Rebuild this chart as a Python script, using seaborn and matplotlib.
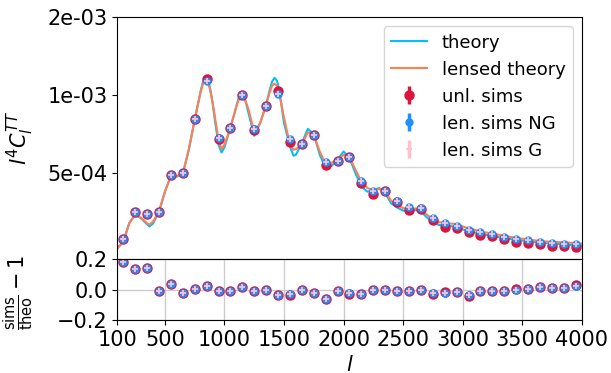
import numpy as np
import pandas as pd
import seaborn as sns
import matplotlib.pyplot as plt
from matplotlib.ticker import FormatStrFormatter, NullLocator

# theory curves, l^4 C_l^TT in units of 1e-4
ell_theo = [100, 150, 200, 250, 300, 350, 370, 400, 450, 500, 550, 600, 650, 700,
            750, 800, 820, 840, 860, 880, 900, 925, 950, 975, 1000, 1050, 1100, 1120,
            1140, 1160, 1180, 1200, 1250, 1300, 1350, 1380, 1400, 1420, 1440, 1460,
            1500, 1550, 1580, 1600, 1650, 1700, 1750, 1800, 1850, 1900, 1950, 2000,
            2050, 2100, 2150, 2200, 2250, 2300, 2350, 2400, 2450, 2500, 2550, 2600,
            2650, 2700, 2750, 2800, 2850, 2900, 2950, 3000, 3050, 3100, 3150, 3250,
            3350, 3450, 3550, 3650, 3750, 3850, 3950, 4000]
cl_theory = [2.57, 2.72, 3.21, 3.47, 3.35, 3.18, 3.12, 3.20, 3.56, 4.25, 4.89, 4.86,
             4.98, 6.16, 8.06, 10.4, 11.3, 11.8, 11.5, 10.6, 9.35, 7.70, 6.45, 6.02,
             6.30, 7.50, 9.10, 9.80, 10.3, 10.1, 9.40, 8.60, 6.98, 7.82, 9.20, 10.5,
             11.3, 11.68, 11.4, 10.5, 7.82, 6.35, 5.85, 5.90, 6.55, 7.42, 7.10, 5.90,
             5.24, 5.34, 5.64, 6.07, 5.73, 5.01, 4.44, 4.25, 4.31, 4.39, 4.19, 3.83,
             3.69, 3.59, 3.61, 3.61, 3.56, 3.38, 3.26, 3.16, 3.16, 3.13, 3.11, 3.04,
             2.99, 2.96, 2.92, 2.87, 2.81, 2.77, 2.74, 2.70, 2.68, 2.66, 2.64, 2.63]
cl_lensed = [2.57, 2.72, 3.21, 3.47, 3.37, 3.21, 3.17, 3.26, 3.56, 4.25, 4.89, 4.88,
             4.98, 6.16, 8.06, 10.3, 11.1, 11.6, 11.35, 10.5, 9.40, 7.95, 6.74, 6.20,
             6.45, 7.50, 9.05, 9.65, 10.0, 9.90, 9.40, 8.90, 7.20, 7.82, 9.20, 10.3,
             10.9, 11.1, 10.9, 10.2, 8.20, 6.45, 6.17, 6.20, 6.45, 7.20, 7.05, 6.07,
             5.43, 5.50, 5.64, 5.89, 5.81, 5.16, 4.65, 4.39, 4.31, 4.35, 4.26, 3.92,
             3.77, 3.67, 3.68, 3.66, 3.64, 3.46, 3.34, 3.24, 3.22, 3.20, 3.19, 3.12,
             3.07, 3.03, 2.98, 2.93, 2.87, 2.82, 2.78, 2.74, 2.72, 2.71, 2.69, 2.68]

# binned sims
ell_bins = list(range(150, 4000, 100))
sims_unl = [2.79, 3.56, 3.48, 3.56, 4.92, 5.02, 8.10, 11.6, 6.80, 7.50, 10.05, 7.35,
            9.12, 10.4, 6.62, 6.49, 7.03, 5.38, 5.57, 5.78, 4.57, 4.17, 4.27, 3.87,
            3.62, 3.64, 3.30, 3.10, 3.08, 2.96, 2.89, 2.86, 2.78, 2.72, 2.70, 2.66,
            2.63, 2.62, 2.60]
sims_ng = [2.79, 3.56, 3.48, 3.56, 4.92, 5.02, 8.10, 11.4, 6.86, 7.50, 10.0, 7.43,
           9.12, 10.1, 6.78, 6.49, 7.03, 5.51, 5.57, 5.78, 4.69, 4.29, 4.29, 3.91,
           3.70, 3.67, 3.36, 3.21, 3.14, 3.03, 2.96, 2.92, 2.85, 2.78, 2.76, 2.71,
           2.69, 2.68, 2.66]
sims_g = [2.79, 3.56, 3.48, 3.56, 4.92, 5.02, 8.10, 11.4, 6.86, 7.50, 10.0, 7.43,
          9.12, 10.1, 6.78, 6.49, 7.03, 5.51, 5.57, 5.78, 4.69, 4.29, 4.29, 3.91,
          3.70, 3.67, 3.36, 3.21, 3.14, 3.03, 2.96, 2.92, 2.85, 2.78, 2.76, 2.71,
          2.69, 2.68, 2.66]

# residuals sims/theo - 1
res_unl = [0.18, 0.133, 0.142, -0.011, 0.038, -0.02, 0.002, 0.024, -0.009, -0.009,
           0.016, -0.009, -0.002, -0.038, -0.033, -0.002, -0.022, -0.062, -0.007,
           -0.026, -0.027, -0.004, -0.002, -0.011, -0.009, -0.004, -0.026, -0.014,
           -0.018, -0.042, -0.009, -0.009, -0.007, 0.004, 0.002, 0.016, 0.012, 0.009,
           0.029]
res_ng = [0.18, 0.133, 0.142, -0.011, 0.038, -0.02, 0.002, 0.024, -0.009, -0.009,
          0.016, -0.009, -0.002, -0.036, -0.031, -0.002, -0.02, -0.06, -0.009,
          -0.022, -0.027, -0.004, -0.002, -0.011, -0.009, -0.004, -0.024, -0.02,
          -0.018, -0.038, -0.011, -0.009, -0.007, 0.0, 0.002, 0.016, 0.011, 0.009,
          0.027]

scale = 1e-4
rel_err = 0.004

df_theo = pd.DataFrame({"l": ell_theo,
                        "theory": np.array(cl_theory) * scale,
                        "lensed": np.array(cl_lensed) * scale})
df_sims = pd.DataFrame({"l": ell_bins,
                        "unl": np.array(sims_unl) * scale,
                        "ng": np.array(sims_ng) * scale,
                        "g": np.array(sims_g) * scale,
                        "res_unl": res_unl,
                        "res_ng": res_ng})

fig = plt.figure(figsize=(6.11, 3.73), dpi=100)
ax1 = fig.add_axes([0.192, 0.3048, 0.760, 0.6488])
ax2 = fig.add_axes([0.192, 0.1421, 0.760, 0.1627], sharex=ax1)

sns.lineplot(data=df_theo, x="l", y="theory", ax=ax1, color="deepskyblue",
             lw=1.5, label="theory")
sns.lineplot(data=df_theo, x="l", y="lensed", ax=ax1, color="coral",
             lw=1.5, label="lensed theory")

ax1.errorbar(df_sims.l, df_sims.unl, yerr=df_sims.unl * rel_err, fmt="o",
             color="crimson", ms=6.5, elinewidth=2.5, label="unl. sims")
ax1.errorbar(df_sims.l, df_sims.ng, yerr=df_sims.ng * rel_err, fmt="o",
             color="dodgerblue", ms=5, elinewidth=2.5, label="len. sims NG")
ax1.errorbar(df_sims.l, df_sims.g, yerr=df_sims.g * rel_err, fmt="+",
             color="pink", ms=5, mew=1.3, elinewidth=2.5, label="len. sims G")

ax1.set_yscale("log")
ax1.set_ylim(2.33e-4, 2e-3)
ax1.set_yticks([5e-4, 1e-3, 2e-3])
ax1.yaxis.set_major_formatter(FormatStrFormatter("%.0e"))
ax1.yaxis.set_minor_locator(NullLocator())
ax1.set_xlim(100, 4000)
ax1.tick_params(axis="x", bottom=False, labelbottom=False)
ax1.tick_params(axis="y", labelsize=15)
ax1.set_xlabel("")
ax1.set_ylabel(r"$l^4C_l^{TT}$", fontsize=15)
ax1.yaxis.set_label_coords(-0.175, 0.5)
ax1.legend(loc="upper right", fontsize=13)

# residual panel
ax2.set_axisbelow(True)
ax2.grid(True, color="#cccccc", lw=1)
ax2.errorbar(df_sims.l, df_sims.res_unl, yerr=rel_err, fmt="o",
             color="crimson", ms=6.5, elinewidth=2.5)
ax2.errorbar(df_sims.l, df_sims.res_ng, yerr=rel_err, fmt="o",
             color="dodgerblue", ms=5, elinewidth=2.5)
ax2.errorbar(df_sims.l, df_sims.res_ng, yerr=rel_err, fmt="+",
             color="pink", ms=5, mew=1.3, elinewidth=2.5)
ax2.set_ylim(-0.2, 0.2)
ax2.set_yticks([-0.2, 0.0, 0.2])
ax2.set_xticks([100, 500, 1000, 1500, 2000, 2500, 3000, 3500, 4000])
ax2.set_xlim(100, 4000)
ax2.tick_params(labelsize=15)
ax2.set_xlabel(r"$l$", fontsize=15)
ax2.set_ylabel(r"$\frac{\rm sims}{\rm theo}-1$", fontsize=15)
ax2.yaxis.set_label_coords(-0.175, 0.45)

fig.savefig("out.png", dpi=100)
